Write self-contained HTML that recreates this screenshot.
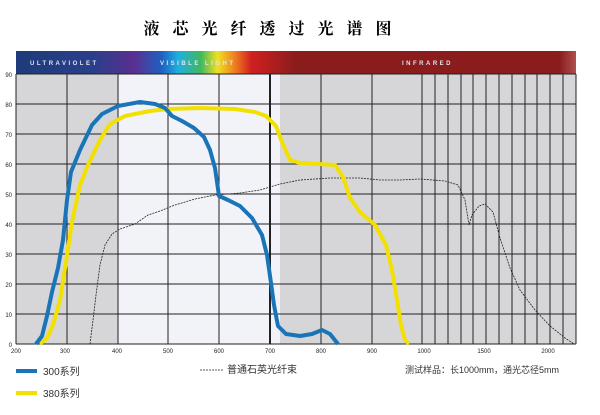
<!DOCTYPE html>
<html><head><meta charset="utf-8"><style>
body{margin:0;background:#fff;width:600px;height:410px;overflow:hidden}
</style></head><body>
<svg width="600" height="410" xmlns="http://www.w3.org/2000/svg" font-family="Liberation Sans, Noto Sans CJK SC, sans-serif">
<defs>
<linearGradient id="bar" x1="16" x2="576" gradientUnits="userSpaceOnUse">
<stop offset="0" stop-color="#1d3b7a"/>
<stop offset="0.14" stop-color="#2a3f8a"/>
<stop offset="0.21" stop-color="#5a2f8f"/>
<stop offset="0.26" stop-color="#2060c0"/>
<stop offset="0.29" stop-color="#20b0e0"/>
<stop offset="0.33" stop-color="#40b860"/>
<stop offset="0.36" stop-color="#f0e020"/>
<stop offset="0.39" stop-color="#f08020"/>
<stop offset="0.42" stop-color="#d02020"/>
<stop offset="0.5" stop-color="#8a1c1c"/>
<stop offset="0.97" stop-color="#8a1c1c"/>
<stop offset="1" stop-color="#b05050"/>
</linearGradient>
</defs>
<text x="274" y="34" font-size="16" font-weight="bold" text-anchor="middle" font-family="Noto Serif CJK SC, serif" letter-spacing="13">液芯光纤透过光谱图</text>
<rect x="16" y="51" width="560" height="23" fill="url(#bar)"/>
<g fill="#dfe4f0" font-size="6" font-weight="bold" letter-spacing="2.5">
<text x="30" y="65">ULTRAVIOLET</text>
<text x="160" y="65">VISIBLE LIGHT</text>
<text x="402" y="65">INFRARED</text>
</g>
<rect x="16" y="74" width="560" height="270" fill="#d6d6d9"/>
<rect x="118" y="74" width="162" height="270" fill="#f1f3f8"/>
<g stroke="#222" stroke-width="1">
<line x1="16" y1="74" x2="576" y2="74"/>
<line x1="16" y1="104" x2="576" y2="104"/>
<line x1="16" y1="134" x2="576" y2="134"/>
<line x1="16" y1="164" x2="576" y2="164"/>
<line x1="16" y1="194" x2="576" y2="194"/>
<line x1="16" y1="224" x2="576" y2="224"/>
<line x1="16" y1="254" x2="576" y2="254"/>
<line x1="16" y1="284" x2="576" y2="284"/>
<line x1="16" y1="314" x2="576" y2="314"/>
<line x1="16" y1="344" x2="576" y2="344"/>
<line x1="16" y1="74" x2="16" y2="344"/>
<line x1="67" y1="74" x2="67" y2="344"/>
<line x1="118" y1="74" x2="118" y2="344"/>
<line x1="168" y1="74" x2="168" y2="344"/>
<line x1="219" y1="74" x2="219" y2="344"/>
<line x1="270" y1="74" x2="270" y2="344" stroke-width="2"/>
<line x1="321" y1="74" x2="321" y2="344"/>
<line x1="372" y1="74" x2="372" y2="344"/>
<line x1="422" y1="74" x2="422" y2="344"/>
<line x1="435" y1="74" x2="435" y2="344"/>
<line x1="448" y1="74" x2="448" y2="344"/>
<line x1="461" y1="74" x2="461" y2="344"/>
<line x1="473" y1="74" x2="473" y2="344"/>
<line x1="486" y1="74" x2="486" y2="344"/>
<line x1="499" y1="74" x2="499" y2="344"/>
<line x1="512" y1="74" x2="512" y2="344"/>
<line x1="525" y1="74" x2="525" y2="344"/>
<line x1="537" y1="74" x2="537" y2="344"/>
<line x1="550" y1="74" x2="550" y2="344"/>
<line x1="563" y1="74" x2="563" y2="344"/>
<line x1="576" y1="74" x2="576" y2="344"/>
</g>
<g font-size="6" fill="#222" text-anchor="end">
<text x="12" y="77">90</text><text x="12" y="107">80</text><text x="12" y="137">70</text>
<text x="12" y="167">60</text><text x="12" y="197">50</text><text x="12" y="227">40</text>
<text x="12" y="257">30</text><text x="12" y="287">20</text><text x="12" y="317">10</text>
<text x="12" y="347">0</text>
</g>
<g font-size="6" fill="#222" text-anchor="middle">
<text x="16" y="353">200</text><text x="65" y="353">300</text><text x="117" y="353">400</text>
<text x="168" y="353">500</text><text x="219" y="353">600</text><text x="270" y="353">700</text>
<text x="321" y="353">800</text><text x="372" y="353">900</text><text x="424" y="353">1000</text>
<text x="484" y="353">1500</text><text x="548" y="353">2000</text>
</g>
<polyline fill="none" stroke="#222" stroke-width="0.8" stroke-dasharray="2,1" points="90,344 93,320 96,295 100,265 105,245 112,234 120,229 135,224 148,215 160,211 175,205 195,199 215,195 240,193 260,190 280,184 300,180 330,178 360,178 380,180 400,180 420,179 445,181 458,185 465,200 469,225 472,215 479,206 485,204 493,212 500,238 510,268 520,290 535,310 550,326 565,338 574,344"/>
<polyline fill="none" stroke="#f2e000" stroke-width="4" stroke-linejoin="round" points="40,344 47,338 53,325 60,300 66,262 72,222 80,185 88,165 100,140 110,124 125,116 150,111 168,109 200,108 235,109 255,112 266,116 276,126 282,142 290,160 300,163 335,165 343,177 350,198 360,212 375,225 386,245 392,270 397,300 401,325 405,340 409,344"/>
<polyline fill="none" stroke="#1a74b8" stroke-width="4" stroke-linejoin="round" points="36,344 42,336 47,316 52,292 58,268 63,240 67,200 71,172 80,150 92,125 102,114 118,106 140,102 155,104 165,108 172,116 182,121 194,128 204,137 210,150 215,168 219,196 228,200 240,206 252,218 262,235 267,255 271,283 274,305 278,326 286,334 300,336 312,334 322,330 330,334 338,344"/>
<line x1="16" y1="371" x2="37" y2="371" stroke="#1a74b8" stroke-width="4"/>
<text x="43" y="375" font-size="10" fill="#333">300系列</text>
<line x1="16" y1="393" x2="37" y2="393" stroke="#f2e000" stroke-width="4"/>
<text x="43" y="397" font-size="10" fill="#333">380系列</text>
<line x1="200" y1="370" x2="224" y2="370" stroke="#222" stroke-width="0.8" stroke-dasharray="2,1"/>
<text x="227" y="373" font-size="10" fill="#333">普通石英光纤束</text>
<text x="405" y="373" font-size="9" fill="#333">测试样品：长1000mm，通光芯径5mm</text>
</svg>
</body></html>
